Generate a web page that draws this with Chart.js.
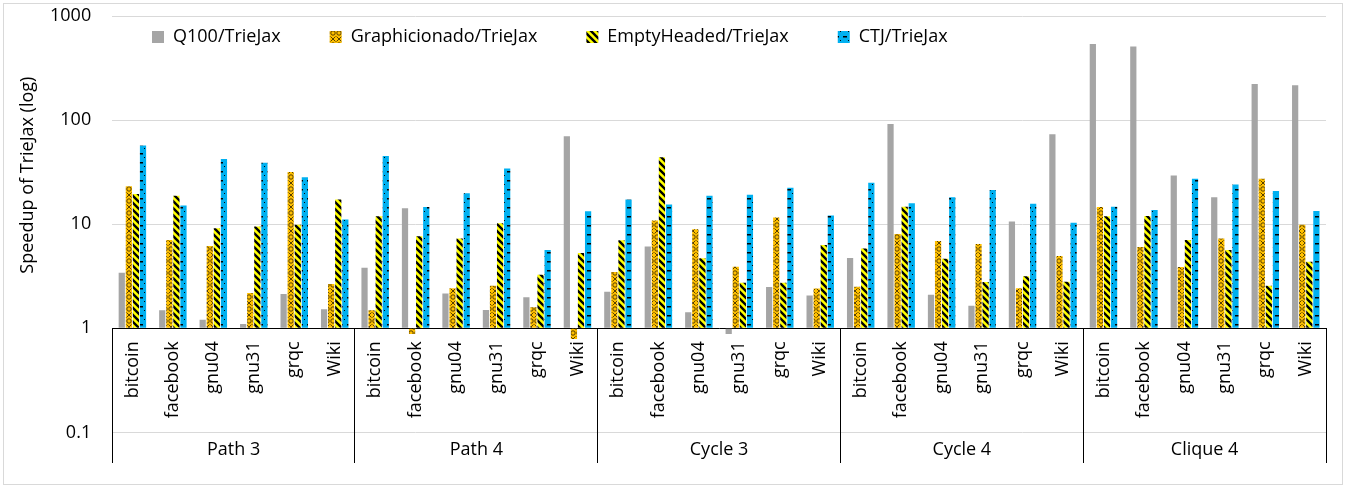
<!DOCTYPE html>
<html>
<head>
<meta charset="utf-8">
<script src="https://cdn.jsdelivr.net/npm/chart.js@4.4.1/dist/chart.umd.min.js"></script>
<style>
  html, body { margin: 0; padding: 0; background: #fff; }
  #frame { position: absolute; left: 3px; top: 3px; width: 1340px; height: 482px; border: 1px solid #d9d9d9; box-sizing: border-box; }
  #chart { position: absolute; left: 0; top: 0; }
</style>
</head>
<body>
<div id="frame"></div>
<canvas id="chart" width="1346" height="489"></canvas>
<script>
// Speedup of TrieJax, log scale, grouped by query pattern

const GROUPS = ['Path 3', 'Path 4', 'Cycle 3', 'Cycle 4', 'Clique 4'];
const GRAPHS = ['bitcoin', 'facebook', 'gnu04', 'gnu31', 'grqc', 'Wiki'];
const Y_TICKS = [0.1, 1, 10, 100, 1000];
const Y_TITLE = 'Speedup of TrieJax (log)';

const Q100 = [
    3.42, 1.49, 1.21, 1.10, 2.13, 1.52,
    3.82, 14.2, 2.16, 1.50, 1.99, 70.1,
    2.24, 6.09, 1.43, 0.88, 2.49, 2.07,
    4.73, 91.5, 2.10, 1.65, 10.6, 73.3,
    537, 510, 29.3, 18.2, 222, 216
];
const GRAPHICIONADO = [
    23.1, 7.06, 6.18, 2.18, 31.7, 2.66,
    1.49, 0.88, 2.43, 2.56, 1.59, 0.79,
    3.47, 10.85, 8.95, 3.9, 11.6, 2.41,
    2.5, 8.07, 6.9, 6.46, 2.43, 4.95,
    14.6, 6.04, 3.88, 7.27, 27.4, 9.86
];
const EMPTYHEADED = [
    19.5, 18.8, 9.15, 9.5, 9.86, 17.3,
    11.9, 7.66, 7.27, 10.2, 3.27, 5.29,
    7.01, 44, 4.7, 2.74, 2.74, 6.32,
    5.83, 14.7, 4.66, 2.78, 3.17, 2.8,
    11.9, 12.0, 7.06, 5.65, 2.56, 4.36
];
const CTJ = [
    57, 15.1, 42.4, 39, 28.2, 11.1,
    45.3, 14.6, 19.8, 34.2, 5.65, 13.3,
    17.3, 15.5, 18.8, 19.2, 22.4, 12.1,
    25, 15.9, 18.2, 21.3, 15.7, 10.3,
    14.7, 13.7, 27.4, 24.1, 20.8, 13.4
];

const FONT = { family: '"Open Sans", sans-serif', size: 18 };
const TEXT = '#000';

function makePattern(kind) {
    const c = document.createElement('canvas');
    const g = c.getContext('2d');
    if (kind === 'cross') {
        c.width = 6; c.height = 12;
        g.fillStyle = '#FFC000';
        g.fillRect(0, 0, 6, 12);
        g.strokeStyle = 'rgba(70,50,0,0.9)';
        g.lineWidth = 1;
        g.beginPath();
        g.moveTo(0.5, 0.5); g.lineTo(5.5, 5.5);
        g.moveTo(5.5, 0.5); g.lineTo(0.5, 5.5);
        g.stroke();
        g.beginPath();
        g.arc(3, 9, 2.2, 0, Math.PI * 2);
        g.stroke();
    } else if (kind === 'stripes') {
        c.width = 7; c.height = 7;
        g.fillStyle = '#FFFF00';
        g.fillRect(0, 0, 7, 7);
        g.strokeStyle = '#000';
        g.lineWidth = 2.4;
        g.beginPath();
        [-7, 0, 7].forEach(k => { g.moveTo(k - 1, -1); g.lineTo(k + 8, 8); });
        g.stroke();
    } else {
        c.width = 8; c.height = 9;
        g.fillStyle = '#00B0F0';
        g.fillRect(0, 0, 8, 9);
        g.fillStyle = '#000';
        g.fillRect(3, 0, 4, 1.5);
        g.fillRect(0, 4, 1, 1);
    }
    return g.createPattern(c, 'repeat');
}

// legend sits inside the plot area, like the original
const legendOverlay = {
    id: 'legendOverlay',
    beforeInit(chart) {
        const fit = chart.legend.fit;
        chart.legend.fit = function () { fit.call(this); this.height = 0; };
    },
    afterLayout(chart) {
        const lg = chart.legend;
        lg.left = 103;
        lg.top = -21;
        lg.bottom = 100;
        lg.right = chart.width;
    }
};

const yTitle = {
    id: 'yTitle',
    afterDraw(chart) {
        const y = chart.scales.y;
        const ctx = chart.ctx;
        const cy = (y.getPixelForValue(1000) + y.getPixelForValue(1)) / 2 + 3;
        ctx.save();
        ctx.translate(28, cy);
        ctx.rotate(-Math.PI / 2);
        ctx.font = '18px "Open Sans"';
        ctx.fillStyle = TEXT;
        ctx.textAlign = 'center';
        ctx.textBaseline = 'middle';
        ctx.fillText(Y_TITLE, 0, 0);
        ctx.restore();
    }
};

function barSet(label, data, bg) {
    return {
        label: label,
        data: data,
        backgroundColor: bg,
        borderWidth: 0,
        base: 1,
        categoryPercentage: 0.7,
        barPercentage: 0.88
    };
}

const labels = GROUPS.flatMap(() => GRAPHS);

new Chart(document.getElementById('chart'), {
    type: 'bar',
    data: {
        labels: labels,
        datasets: [
            barSet('Q100/TrieJax', Q100, '#A5A5A5'),
            barSet('Graphicionado/TrieJax', GRAPHICIONADO, makePattern('cross')),
            barSet('EmptyHeaded/TrieJax', EMPTYHEADED, makePattern('stripes')),
            barSet('CTJ/TrieJax', CTJ, makePattern('dash'))
        ]
    },
    options: {
        responsive: false,
        animation: false,
        layout: { padding: { top: 16, left: 29, right: 20, bottom: 21 } },
        plugins: {
            legend: {
                position: 'top',
                align: 'start',
                labels: { boxWidth: 12, boxHeight: 12, padding: 49, font: FONT, color: TEXT }
            },
            tooltip: { enabled: false }
        },
        scales: {
            y: {
                type: 'logarithmic',
                min: 0.1,
                max: 1000,
                afterBuildTicks: s => { s.ticks = Y_TICKS.map(v => ({ value: v })); },
                afterFit: s => { s.paddingTop = 11; s.paddingBottom = 11; },
                ticks: { callback: v => String(v), font: FONT, color: TEXT, padding: 21 },
                grid: { color: '#d9d9d9', drawTicks: false },
                border: { display: false }
            },
            x: {
                position: { y: 1 },
                offset: true,
                grid: {
                    offset: true,
                    drawOnChartArea: false,
                    tickLength: 134,
                    lineWidth: 1,
                    color: c => (c.type !== 'tick' || c.index % GRAPHS.length === 0) ? '#000' : 'rgba(0,0,0,0)'
                },
                border: { color: '#000', width: 1 },
                ticks: { autoSkip: false, minRotation: 90, maxRotation: 90, padding: -121, font: FONT, color: TEXT },
                afterFit: s => { s.height = 0; }
            },
            x2: {
                type: 'category',
                labels: GROUPS,
                position: 'bottom',
                offset: true,
                grid: { display: false, drawTicks: false },
                border: { display: false },
                ticks: { autoSkip: false, maxRotation: 0, padding: 7, font: FONT, color: TEXT }
            }
        }
    },
    plugins: [legendOverlay, yTitle]
});
</script>
</body>
</html>
